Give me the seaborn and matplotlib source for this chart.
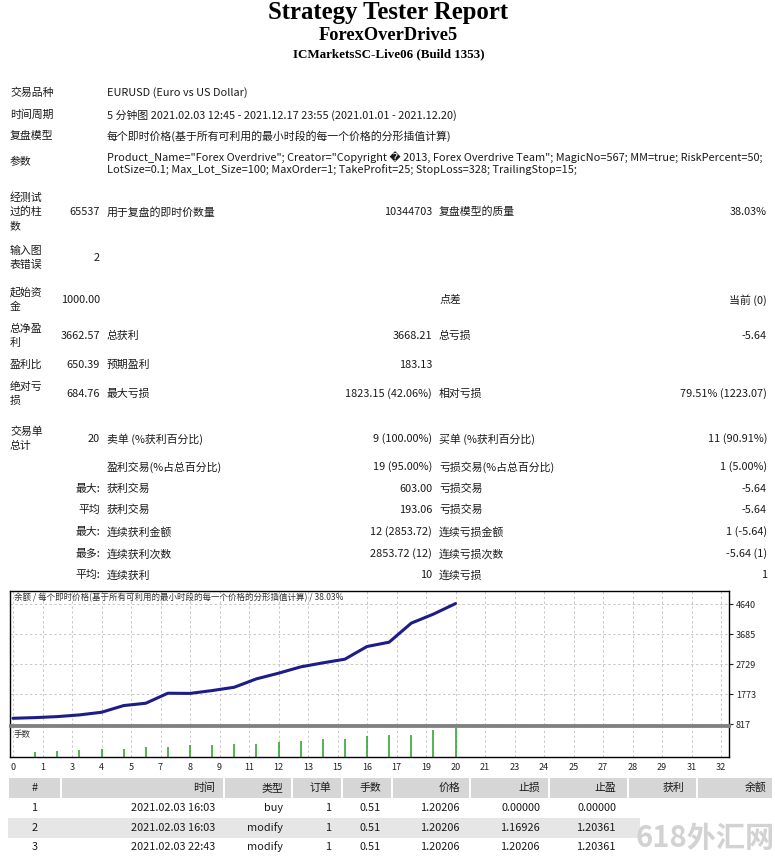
import matplotlib
matplotlib.use("Agg")
import matplotlib.pyplot as plt
from matplotlib.patches import Rectangle
import seaborn as sns
import pandas as pd

# ---------------- data ----------------
trade_no = list(range(0, 21))
balance = [1000, 1021, 1053, 1107, 1192, 1405, 1480, 1800, 1794, 1885, 1991,
           2258, 2439, 2641, 2769, 2887, 3292, 3430, 4038, 4326, 4662.57]
lot_trade = list(range(1, 21))
lots = [0.51, 0.61, 0.68, 0.75, 0.78, 0.95, 1.02, 1.19, 1.16, 1.29,
        1.29, 1.46, 1.60, 1.77, 1.80, 2.04, 2.14, 2.14, 2.65, 2.82]
x_tick_labels = ["0", "1", "3", "4", "5", "7", "8", "9", "11", "12", "13", "15", "16",
                 "17", "19", "20", "21", "23", "24", "25", "27", "28", "29", "31", "32"]
y_ticks = [817, 1773, 2729, 3685, 4640]

title1 = "Strategy Tester Report"
title2 = "ForexOverDrive5"
title3 = "ICMarketsSC-Live06 (Build 1353)"

info_rows = [
    ("交易品种", ["EURUSD (Euro vs US Dollar)"]),
    ("时间周期", ["5 分钟图 2021.02.03 12:45 - 2021.12.17 23:55 (2021.01.01 - 2021.12.20)"]),
    ("复盘模型", ["每个即时价格(基于所有可利用的最小时段的每一个价格的分形插值计算)"]),
    ("参数", ['Product_Name="Forex Overdrive"; Creator="Copyright \ufffd 2013, Forex Overdrive Team"; MagicNo=567; MM=true; RiskPercent=50;',
             "LotSize=0.1; Max_Lot_Size=100; MaxOrder=1; TakeProfit=25; StopLoss=328; TrailingStop=15;"]),
]

stat_labels = [["经测试", "过的柱", "数"], ["输入图", "表错误"], ["起始资", "金"],
               ["总净盈", "利"], ["盈利比"], ["绝对亏", "损"], ["交易单", "总计"],
               [], [], [], [], [], []]
stat_v1 = ["65537", "2", "1000.00", "3662.57", "650.39", "684.76", "20",
           "", "最大:", "平均", "最大:", "最多:", "平均:"]
stat_l2 = ["用于复盘的即时价数量", "", "", "总获利", "预期盈利", "最大亏损", "卖单 (%获利百分比)",
           "盈利交易(%占总百分比)", "获利交易", "获利交易", "连续获利金额", "连续获利次数", "连续获利"]
stat_v2 = ["10344703", "", "", "3668.21", "183.13", "1823.15 (42.06%)", "9 (100.00%)",
           "19 (95.00%)", "603.00", "193.06", "12 (2853.72)", "2853.72 (12)", "10"]
stat_l3 = ["复盘模型的质量", "", "点差", "总亏损", "", "相对亏损", "买单 (%获利百分比)",
           "亏损交易(%占总百分比)", "亏损交易", "亏损交易", "连续亏损金额", "连续亏损次数", "连续亏损"]
stat_v3 = ["38.03%", "", "当前 (0)", "-5.64", "", "79.51% (1223.07)", "11 (90.91%)",
           "1 (5.00%)", "-5.64", "-5.64", "1 (-5.64)", "-5.64 (1)", "1"]

chart_title = "余额 / 每个即时价格(基于所有可利用的最小时段的每一个价格的分形插值计算) / 38.03%"
lots_title = "手数"

table_headers = ["#", "时间", "类型", "订单", "手数", "价格", "止损", "止盈", "获利", "余额"]
table_rows = [
    ["1", "2021.02.03 16:03", "buy", "1", "0.51", "1.20206", "0.00000", "0.00000", "", ""],
    ["2", "2021.02.03 16:03", "modify", "1", "0.51", "1.20206", "1.16926", "1.20361", "", ""],
    ["3", "2021.02.03 22:43", "modify", "1", "0.51", "1.20206", "1.20206", "1.20361", "", ""],
]
watermark = "618外汇网"

# ---------------- style ----------------
sns.set_style("white")
plt.rcParams['font.family'] = ['Noto Sans CJK SC', 'DejaVu Sans']

W, H = 775, 858
fig = plt.figure(figsize=(W / 100, H / 100), dpi=100)
bg = fig.add_axes([0, 0, 1, 1])
bg.set_xlim(0, W)
bg.set_ylim(H, 0)
bg.axis("off")

FS = 7.85
TC = "#1a1a1a"
serif = ['Liberation Serif', 'DejaVu Serif']

bg.text(W / 2 + 1, 12, title1, ha="center", va="center", fontsize=17.8, fontweight="bold", family=serif, color="black")
bg.text(W / 2 + 1, 35, title2, ha="center", va="center", fontsize=13.2, fontweight="bold", family=serif, color="black")
bg.text(W / 2 + 1, 54, title3, ha="center", va="center", fontsize=9.4, fontweight="bold", family=serif, color="black")

# info rows
info_y = [[93], [115], [136], [157, 170]]
info_label_y = [93, 115, 136, 162]
for (lab, vals), ys, ly in zip(info_rows, info_y, info_label_y):
    bg.text(10, ly, lab, ha="left", va="center", fontsize=FS, color=TC)
    for v, y in zip(vals, ys):
        bg.text(107, y, v, ha="left", va="center", fontsize=FS, color=TC)

# stats rows
row_y = [212, 258, 300, 336, 365, 394, 439, 467, 489, 510, 532, 554, 575]
for i, y in enumerate(row_y):
    labs = stat_labels[i]
    n = len(labs)
    for j, lab in enumerate(labs):
        ly = y + (j - (n - 1) / 2) * 14.5
        bg.text(10, ly, lab, ha="left", va="center", fontsize=FS, color=TC)
    bg.text(100, y, stat_v1[i], ha="right", va="center", fontsize=FS, color=TC)
    bg.text(107, y, stat_l2[i], ha="left", va="center", fontsize=FS, color=TC)
    bg.text(432, y, stat_v2[i], ha="right", va="center", fontsize=FS, color=TC)
    bg.text(439, y, stat_l3[i], ha="left", va="center", fontsize=FS, color=TC)
    bg.text(767, y, stat_v3[i], ha="right", va="center", fontsize=FS, color=TC)

# ---------------- chart ----------------
def px_axes(l, t, r, b):
    return fig.add_axes([l / W, 1 - b / H, (r - l) / W, (b - t) / H])

x0_px, x1_px = 13.0, 721.0
upx = (x1_px - x0_px) / 32.0
xl = (10 - x0_px) / upx
xr = (729 - x0_px) / upx
x_ticks = [k * 4 / 3 for k in range(25)]

ax = px_axes(10, 591, 729, 725)
df = pd.DataFrame({"trade": trade_no, "balance": balance})
sns.lineplot(data=df, x="trade", y="balance", ax=ax, color="#1c1c8a", linewidth=2.2)
ypx = (4640 - 817) / (724 - 604.3)
ax.set_xlim(xl, xr)
ax.set_ylim(817 - (725 - 724) * ypx, 817 + (724 - 591) * ypx)
ax.set_xticks(x_ticks)
ax.set_xticklabels([])
ax.set_yticks(y_ticks)
ax.set_yticklabels([str(v) for v in y_ticks])
ax.yaxis.tick_right()
ax.tick_params(axis="y", labelsize=6.5, length=3, width=0.8, pad=2, colors="#222222", right=True, left=False)
ax.tick_params(axis="x", length=0, bottom=False)
ax.grid(True, color="#c8c8c8", linestyle=(0, (2.5, 2.5)), linewidth=0.7)
ax.set_xlabel("")
ax.set_ylabel("")
for s in ["top", "left", "right"]:
    ax.spines[s].set_color("black")
    ax.spines[s].set_linewidth(1.0)
ax.spines["bottom"].set_color("#808080")
ax.spines["bottom"].set_linewidth(2.0)
ax.text(4 / 719, 1 - 7 / 134, chart_title, transform=ax.transAxes, ha="left", va="center",
        fontsize=6.1, color="#333333")

ax2 = px_axes(10, 726, 729, 757)
ax2.vlines(lot_trade, 0, lots, color="#22a022", linewidth=1.1)
ax2.set_xlim(xl, xr)
ax2.set_ylim(0, 3.06)
ax2.set_xticks(x_ticks)
ax2.set_xticklabels(x_tick_labels)
ax2.set_yticks([])
ax2.tick_params(axis="x", labelsize=6.5, length=2.5, width=0.8, pad=2, colors="#222222")
ax2.grid(True, axis="x", color="#c8c8c8", linestyle=(0, (2.5, 2.5)), linewidth=0.7)
for s in ["bottom", "left", "right"]:
    ax2.spines[s].set_color("black")
    ax2.spines[s].set_linewidth(1.0)
ax2.spines["top"].set_color("#808080")
ax2.spines["top"].set_linewidth(2.0)
ax2.text(4 / 719, 1 - 8 / 31, lots_title, transform=ax2.transAxes, ha="left", va="center",
         fontsize=6.1, color="#333333")

# ---------------- bottom table ----------------
cell_edges = [8, 61, 224, 292, 342, 392, 470, 549, 628, 697, 773]
text_right = [None, 215, 283, 331, 381, 460, 540, 616, 684, 767]
header_y0, header_y1 = 778, 798
for c in range(len(table_headers)):
    l, r = cell_edges[c] + 1, cell_edges[c + 1] - 1
    bg.add_patch(Rectangle((l, header_y0), r - l, header_y1 - header_y0, facecolor="#d6d6d6",
                           edgecolor="none"))
    if c == 0:
        bg.text((cell_edges[0] + cell_edges[1]) / 2, 788, table_headers[c], ha="center", va="center",
                fontsize=FS, color=TC)
    else:
        bg.text(text_right[c], 788, table_headers[c], ha="right", va="center", fontsize=FS, color=TC)

bg.add_patch(Rectangle((8, 818), 632, 20, facecolor="#e6e6e6", edgecolor="none"))
row_ys = [808, 828, 847]
for row, y in zip(table_rows, row_ys):
    for c, val in enumerate(row):
        if c == 0:
            bg.text((cell_edges[0] + cell_edges[1]) / 2, y, val, ha="center", va="center",
                    fontsize=FS, color=TC)
        else:
            bg.text(text_right[c], y, val, ha="right", va="center", fontsize=FS, color=TC)

bg.text(705, 838, watermark, ha="center", va="center", fontsize=21, color="#d2d2d2",
        fontweight="bold")

fig.savefig("out.png", dpi=100)
